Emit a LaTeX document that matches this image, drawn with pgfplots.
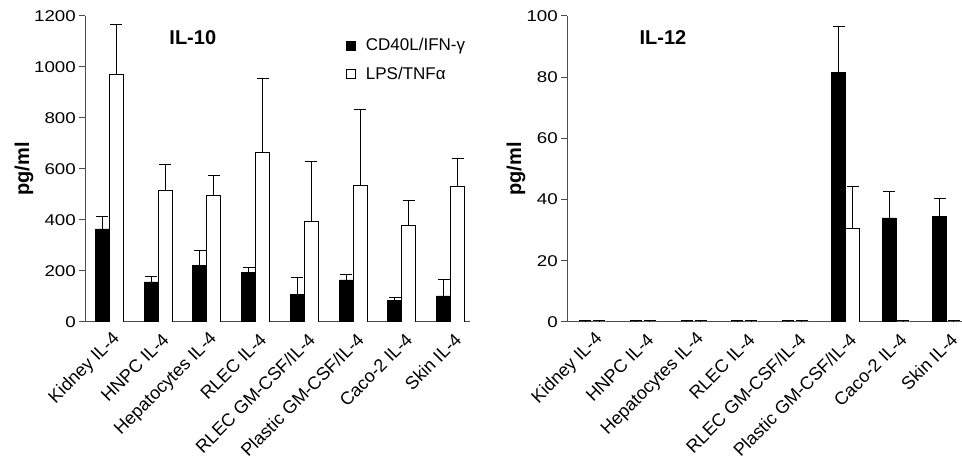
\documentclass[border=0pt]{standalone}
\usepackage{fontspec}
\setmainfont{Liberation Sans}
\usepackage{graphicx}
\usepackage{pgfplots}
\pgfplotsset{compat=1.18}

\pgfplotstableread{
x y e
0 365 47
1 157 21
2 222 59
3 193 19
4 108 65
5 165 23
6 84 14
7 102 64
}\tenblack
\pgfplotstableread{
x y e
0 971 196
1 515 102
2 497 76
3 664 290
4 396 233
5 537 298
6 378 97
7 532 109
}\tenwhite
\pgfplotstableread{
x y e
0 0 0.5
1 0 0.5
2 0 0.5
3 0 0.5
4 0 0.5
5 81.6 15.1
6 34.0 8.8
7 34.5 5.9
}\twelveblack
\pgfplotstableread{
x y e
0 0 0.5
1 0 0.5
2 0 0.5
3 0 0.5
4 0 0.5
5 30.5 13.7
6 0 0.5
7 0 0.5
}\twelvewhite

\pgfplotsset{
  panel/.style={
    scale only axis, height=306pt,
    anchor=south west,
    axis lines=left,
    axis line style={-, draw=black!70, line width=1pt},
    ybar=0pt, bar width=14pt,
    ymin=0,
    xmin=-0.5, xmax=7.4,
    xtick={0,...,7},
    xticklabels={Kidney IL-4, HNPC IL-4, Hepatocytes IL-4, RLEC IL-4,
      RLEC GM-CSF/IL-4, Plastic GM-CSF/IL-4, Caco-2 IL-4, Skin IL-4},
    x tick style={draw=none},
    ticklabel style={font=\fontsize{17.5}{20}\selectfont},
    xticklabel style={xshift=9pt, yshift=-7pt, rotate=45, anchor=east, inner sep=2pt,
      font=\fontsize{18}{21}\selectfont},
    y tick style={draw=black!70, line width=1pt},
    tick align=outside, major tick length=6pt,
    yticklabel={\scalebox{1.07}[0.89]{\pgfmathprintnumber[1000 sep={}]{\tick}}},
    yticklabel style={inner sep=3pt},
    /pgf/number format/assume math mode=true,
    scaled y ticks=false,
    ylabel style={font=\fontsize{20}{22}\selectfont\bfseries, at={(axis description cs:0,0.5)}, anchor=center},
    error bars/y dir=plus, error bars/y explicit,
    error bars/error mark options={mark size=6pt, line width=1pt, rotate=90},
    error bars/error bar style={line width=1pt},
    legend image code/.code={\draw[#1] (0pt,-4.5pt) rectangle (9pt,4.5pt); \path (17pt,0pt);},
  },
  blk/.style={fill=black, draw=black, line width=0.8pt},
  wht/.style={fill=white, draw=black, line width=0.8pt},
}

\begin{document}
\begin{tikzpicture}
\useasboundingbox (0,0) rectangle (962pt,462pt);
\begin{axis}[panel, at={(85pt,140pt)}, width=385pt,
  ymax=1200, ytick={0,200,...,1200},
  ylabel={pg/ml}, ylabel style={yshift=61pt},
  legend style={at={(0.67,0.94)}, anchor=north west, draw=none, fill=none,
    font=\fontsize{17}{20}\selectfont, row sep=11pt},
  legend cell align=left]
\addplot[blk] table[x=x, y=y, y error=e] {\tenblack};
\addplot[wht] table[x=x, y=y, y error=e] {\tenwhite};
\legend{CD40L/IFN-γ, LPS/TNFα}
\node[font=\fontsize{20}{22}\selectfont\bfseries] at (rel axis cs:0.28,0.93) {IL-10};
\end{axis}
\begin{axis}[panel, at={(567pt,140pt)}, width=395pt, xmax=7.3,
  ymax=100, ytick={0,20,...,100},
  ylabel={pg/ml}, ylabel style={yshift=51pt}]
\addplot[blk] table[x=x, y=y, y error=e] {\twelveblack};
\addplot[wht] table[x=x, y=y, y error=e] {\twelvewhite};
\node[font=\fontsize{20}{22}\selectfont\bfseries] at (rel axis cs:0.243,0.93) {IL-12};
\end{axis}
\end{tikzpicture}
\end{document}
